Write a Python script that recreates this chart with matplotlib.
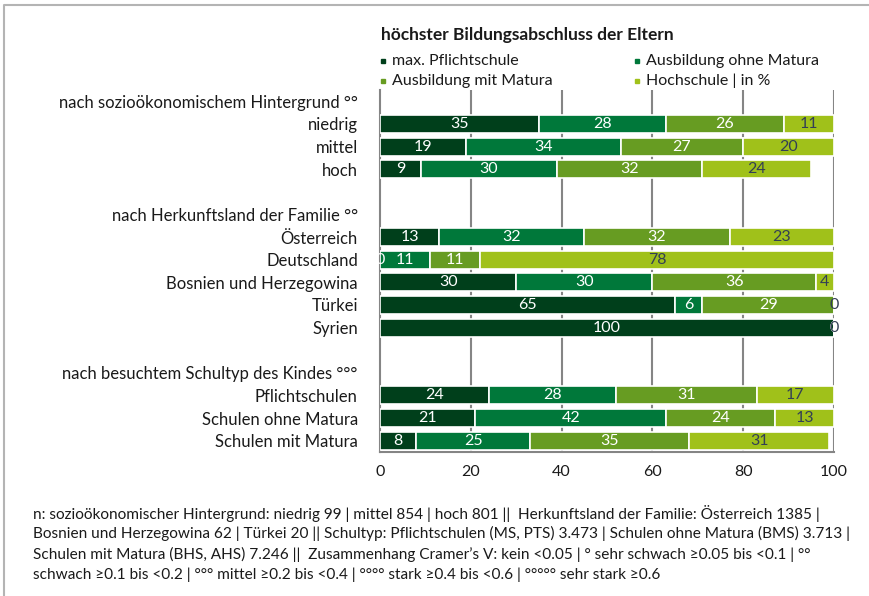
import matplotlib.pyplot as plt
from matplotlib.lines import Line2D
import numpy as np

plt.rcParams['font.family'] = ['Lato', 'DejaVu Sans']

# Zeilen (leere Strings = Leerzeile)
row_labels = [
    'nach sozioökonomischem Hintergrund °°',
    'niedrig', 'mittel', 'hoch',
    '',
    'nach Herkunftsland der Familie °°',
    'Österreich', 'Deutschland', 'Bosnien und Herzegowina', 'Türkei', 'Syrien',
    '',
    'nach besuchtem Schultyp des Kindes °°°',
    'Pflichtschulen', 'Schulen ohne Matura', 'Schulen mit Matura',
]

series_names = ['max. Pflichtschule', 'Ausbildung ohne Matura',
                'Ausbildung mit Matura', 'Hochschule | in %']
pflicht = [None, 35, 19, 9, None, None, 13, 0, 30, 65, 100, None, None, 24, 21, 8]
ohne_matura = [None, 28, 34, 30, None, None, 32, 11, 30, 6, 0, None, None, 28, 42, 25]
mit_matura = [None, 26, 27, 32, None, None, 32, 11, 36, 29, 0, None, None, 31, 24, 35]
hochschule = [None, 11, 20, 24, None, None, 23, 78, 4, 0, 0, None, None, 17, 13, 31]

colors = ['#003f1b', '#00783a', '#679c22', '#a0c11a']
text_colors = ['white', 'white', 'white', '#333f55']

footnote = [
    'n: sozioökonomischer Hintergrund: niedrig 99 | mittel 854 | hoch 801 ||  Herkunftsland der Familie: Österreich 1385 |',
    'Bosnien und Herzegowina 62 | Türkei 20 || Schultyp: Pflichtschulen (MS, PTS) 3.473 | Schulen ohne Matura (BMS) 3.713 |',
    'Schulen mit Matura (BHS, AHS) 7.246 ||  Zusammenhang Cramer\u2019s V: kein <0.05 | ° sehr schwach ≥0.05 bis <0.1 | °°',
    'schwach ≥0.1 bis <0.2 | °°° mittel ≥0.2 bis <0.4 | °°°° stark ≥0.4 bis <0.6 | °°°°° sehr stark ≥0.6',
]

W, H = 869, 596
fig = plt.figure(figsize=(W / 100, H / 100), dpi=100)
ax = fig.add_axes([380 / W, 1 - 452 / H, 454 / W, 362 / H])

y = np.arange(len(row_labels))
series = [pflicht, ohne_matura, mit_matura, hochschule]
left = np.zeros(len(row_labels))
for vals, col, tcol in zip(series, colors, text_colors):
    for i, v in enumerate(vals):
        if v is None:
            continue
        ax.barh(y[i], v, left=left[i], height=0.8, color=col,
                edgecolor='white', linewidth=1.2, zorder=3)
        ax.text(left[i] + v / 2, y[i], str(v), ha='center', va='center',
                color=tcol, fontsize=11.5, zorder=4)
        left[i] += v

ax.set_xlim(0, 100)
ax.set_ylim(len(row_labels) - 0.5, -0.5)
ax.set_xticks([0, 20, 40, 60, 80, 100])
ax.tick_params(axis='x', length=0, labelsize=11.5, pad=9, colors='#1a1a1a')
ax.set_yticks(y)
ax.set_yticklabels(row_labels, fontsize=12)
ax.tick_params(axis='y', length=0, pad=16, colors='#1a1a1a')
for xv in [20, 40, 60, 80, 100]:
    ax.axvline(xv, color='#858585', linewidth=1.5, zorder=1)
for s in ['top', 'right']:
    ax.spines[s].set_visible(False)
for s in ['left', 'bottom']:
    ax.spines[s].set_color('#858585')
    ax.spines[s].set_linewidth(1.5)

# Titel und Legende
fig.text(381 / W, 1 - 35 / H, 'höchster Bildungsabschluss der Eltern',
         fontsize=12.5, fontweight='bold', va='center', ha='left', color='#1a1a1a')
leg_pos = [(383, 61), (637, 61), (383, 81), (637, 81)]
for (px, py), name, col in zip(leg_pos, series_names, colors):
    fig.add_artist(Line2D([px / W], [1 - py / H], marker='s', markersize=3.5,
                          color=col, linestyle='none', transform=fig.transFigure))
    fig.text((px + 9) / W, 1 - py / H, name, fontsize=11.5, va='center',
             ha='left', color='#1a1a1a')

# Fußnote
for k, line in enumerate(footnote):
    fig.text(33 / W, 1 - (513 + k * 20.5) / H, line, fontsize=11.1,
             va='center', ha='left', color='#1a1a1a')

# Rahmen
fig.add_artist(Line2D([4 / W, 4 / W, 1], [0, 1 - 5 / H, 1 - 5 / H],
                      color='#b4b4b4', linewidth=1.5, transform=fig.transFigure))

fig.savefig('out.png', dpi=100)
